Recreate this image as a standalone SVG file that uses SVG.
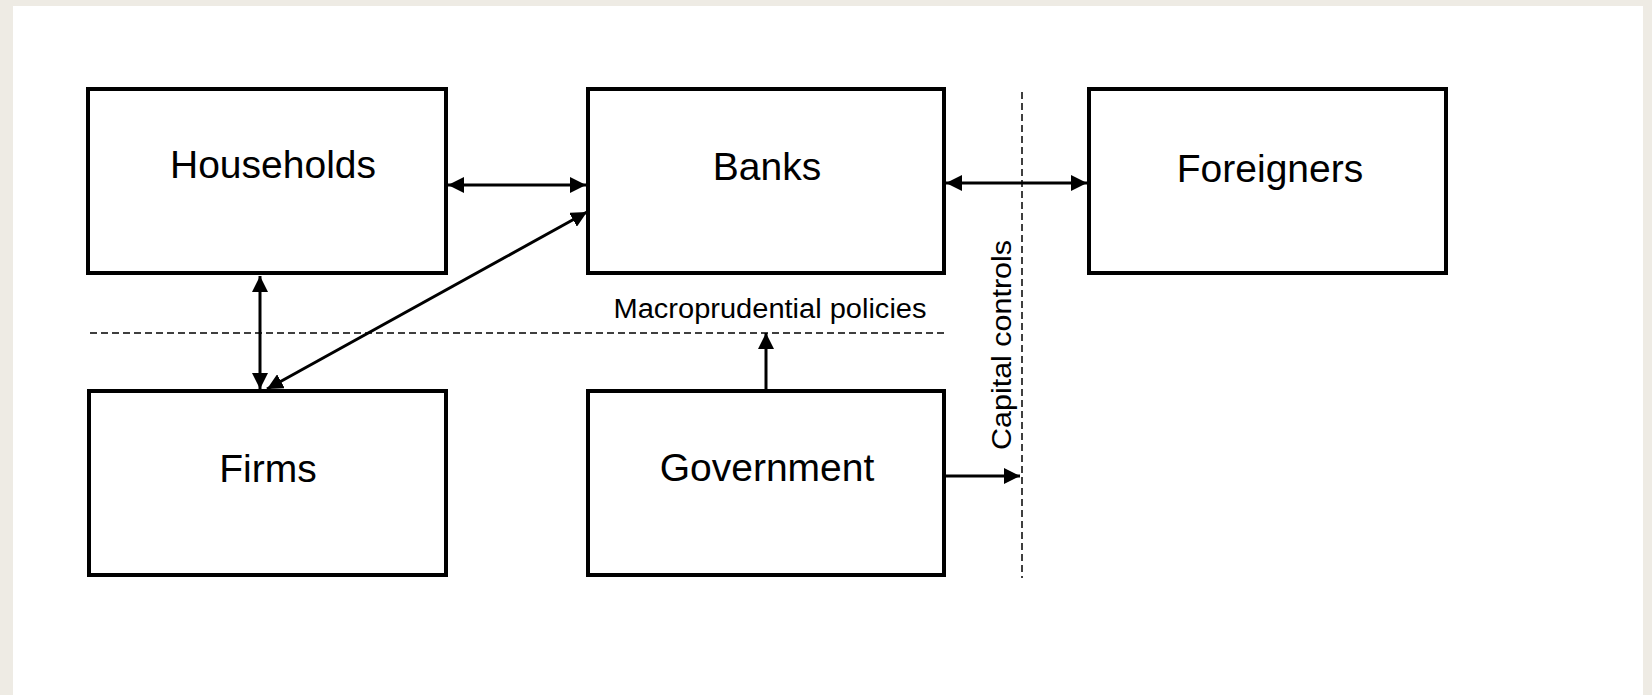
<svg xmlns="http://www.w3.org/2000/svg" width="1652" height="695" viewBox="0 0 1652 695">
  <style>
    .box { fill: #ffffff; stroke: #000000; stroke-width: 4; }
    .label { font-family: "Liberation Sans", Arial, sans-serif; font-size: 39px; fill: #000000; text-anchor: middle; }
    .small { font-family: "Liberation Sans", Arial, sans-serif; font-size: 27px; fill: #000000; text-anchor: middle; }
    .conn { stroke: #000000; stroke-width: 3; fill: none; }
    .dash { stroke: #000000; stroke-width: 1.5; fill: none; stroke-dasharray: 7 4; }
  </style>
  <defs>
    <marker id="arrow" markerUnits="userSpaceOnUse" markerWidth="17" markerHeight="16" refX="16" refY="8" orient="auto-start-reverse">
      <path d="M0,0 L16,8 L0,16 z" fill="#000000"/>
    </marker>
  </defs>
  <rect x="0" y="0" width="1652" height="695" fill="#EEEBE4"/>
  <rect x="13" y="6" width="1630" height="689" fill="#ffffff"/>

  <g id="boundaries">
    <line class="dash" x1="90" y1="333" x2="945" y2="333"/>
    <line class="dash" x1="1022" y1="92" x2="1022" y2="578"/>
    <text class="small" x="770" y="318" textLength="313" lengthAdjust="spacingAndGlyphs">Macroprudential policies</text>
    <text class="small" x="0" y="0" transform="translate(1011,345) rotate(-90)" textLength="210" lengthAdjust="spacingAndGlyphs">Capital controls</text>
  </g>

  <g id="households">
    <rect class="box" x="88" y="89" width="358" height="184"/>
    <text class="label" x="273" y="178">Households</text>
  </g>
  <g id="banks">
    <rect class="box" x="588" y="89" width="356" height="184"/>
    <text class="label" x="767" y="180">Banks</text>
  </g>
  <g id="foreigners">
    <rect class="box" x="1089" y="89" width="357" height="184"/>
    <text class="label" x="1270" y="182">Foreigners</text>
  </g>
  <g id="firms">
    <rect class="box" x="89" y="391" width="357" height="184"/>
    <text class="label" x="268" y="482">Firms</text>
  </g>
  <g id="government">
    <rect class="box" x="588" y="391" width="356" height="184"/>
    <text class="label" x="767" y="481">Government</text>
  </g>

  <g id="connectors">
    <line class="conn" x1="448" y1="185" x2="586" y2="185" marker-start="url(#arrow)" marker-end="url(#arrow)"/>
    <line class="conn" x1="946" y1="183" x2="1087" y2="183" marker-start="url(#arrow)" marker-end="url(#arrow)"/>
    <line class="conn" x1="260" y1="276" x2="260" y2="389" marker-start="url(#arrow)" marker-end="url(#arrow)"/>
    <line class="conn" x1="267" y1="389" x2="587" y2="212" marker-start="url(#arrow)" marker-end="url(#arrow)"/>
    <line class="conn" x1="766" y1="389" x2="766" y2="333" marker-end="url(#arrow)"/>
    <line class="conn" x1="946" y1="476" x2="1020" y2="476" marker-end="url(#arrow)"/>
  </g>
</svg>
